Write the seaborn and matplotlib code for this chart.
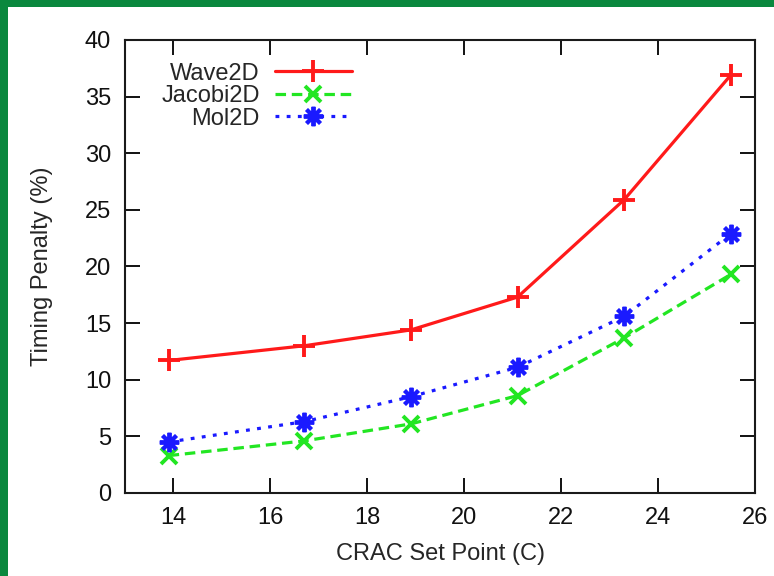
import matplotlib
matplotlib.use("Agg")
import matplotlib.pyplot as plt
from matplotlib.patches import Rectangle
import seaborn as sns
import pandas as pd

# CRAC set points (C) and timing penalty (%) per benchmark
set_points = [13.9, 16.7, 18.9, 21.1, 23.3, 25.5]
wave2d = [11.7, 13.0, 14.4, 17.3, 25.9, 36.9]
jacobi2d = [3.3, 4.6, 6.1, 8.6, 13.7, 19.3]
mol2d = [4.5, 6.3, 8.5, 11.1, 15.6, 22.9]

series_names = ["Wave2D", "Jacobi2D", "Mol2D"]
x_ticks = [14, 16, 18, 20, 22, 24, 26]
y_ticks = [0, 5, 10, 15, 20, 25, 30, 35, 40]

df = pd.DataFrame({
    "setpoint": set_points * 3,
    "penalty": wave2d + jacobi2d + mol2d,
    "bench": [n for n in series_names for _ in set_points],
})

sns.set_style("ticks")
plt.rcParams["font.family"] = ["Liberation Sans", "DejaVu Sans"]
FS = 17

fig = plt.figure(figsize=(7.74, 5.76), dpi=100)
fig.patch.set_facecolor("white")
ax = fig.add_axes([0.1615, 0.1441, 0.814, 0.7865])

styles = {
    "Wave2D": dict(color="#ff1a1a", marker="+", dashes=None, ms=16),
    "Jacobi2D": dict(color="#22e622", marker="x", dashes=(3.3, 1.8), ms=12),
    "Mol2D": dict(color="#1a1aff", marker=(8, 2, 0), dashes=(1.2, 2.3), ms=14),
}

for name in series_names:
    st = styles[name]
    sub = df[df["bench"] == name]
    kw = dict(color=st["color"], marker=st["marker"], markersize=st["ms"],
              markeredgewidth=2.8, markeredgecolor=st["color"],
              markerfacecolor=st["color"], linewidth=2.3, label=name)
    if st["dashes"] is not None:
        kw["dashes"] = st["dashes"]
    sns.lineplot(data=sub, x="setpoint", y="penalty", ax=ax, **kw)

ax.set_xlim(13, 26)
ax.set_ylim(0, 40)
ax.set_xticks(x_ticks)
ax.set_yticks(y_ticks)
ax.tick_params(direction="in", length=11, width=1.4, top=True, right=True,
               labelsize=FS, colors="#111111")
ax.tick_params(axis="y", pad=10)
ax.tick_params(axis="x", pad=10)
for sp in ax.spines.values():
    sp.set_visible(True)
    sp.set_linewidth(1.5)
    sp.set_color("#1a1a1a")

ax.set_xlabel("CRAC Set Point (C)", fontsize=FS, labelpad=10)
ax.set_ylabel("Timing Penalty (%)", fontsize=FS, labelpad=23)

leg = ax.legend(loc="upper right", bbox_to_anchor=(0.36, 0.95), frameon=False,
                markerfirst=False, fontsize=FS, handlelength=3.25,
                labelspacing=0.02, handletextpad=0.65, borderaxespad=0.0,
                borderpad=0.0)

# green frame along the top and left edges of the canvas
green = "#0a883e"
fig.patches.append(Rectangle((0, 1 - 7 / 576), 1, 7 / 576, transform=fig.transFigure,
                             facecolor=green, edgecolor="none", zorder=10))
fig.patches.append(Rectangle((0, 0), 8 / 774, 1, transform=fig.transFigure,
                             facecolor=green, edgecolor="none", zorder=10))

fig.savefig("out.png", dpi=100, facecolor="white")
